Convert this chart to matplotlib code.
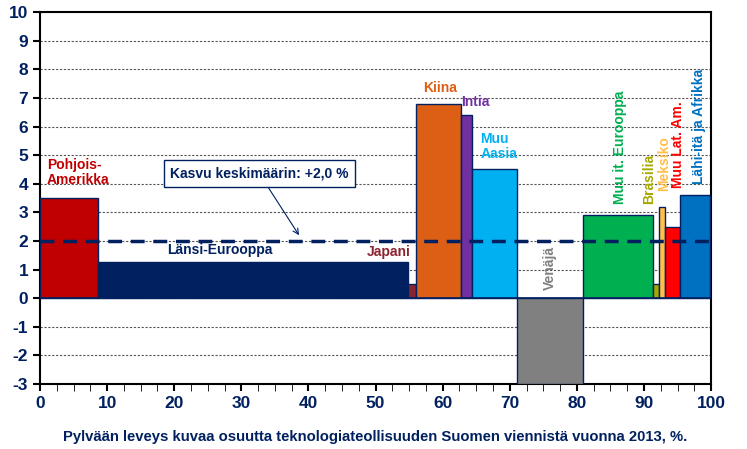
import matplotlib
matplotlib.use("Agg")
import matplotlib.pyplot as plt
import numpy as np

plt.rcParams['font.family'] = ['Liberation Sans', 'DejaVu Sans']
plt.rcParams['axes.unicode_minus'] = False

regions = ["Pohjois-Amerikka", "Länsi-Eurooppa", "Japani", "Kiina", "Intia", "Muu Aasia",
           "Venäjä", "Muu it. Eurooppa", "Brasilia", "Meksiko", "Muu Lat. Am.", "Lähi-itä ja Afrikka"]
widths = [8.6, 46.2, 1.3, 6.7, 1.5, 6.8, 9.8, 10.4, 1.0, 0.8, 2.2, 4.6]
growth = [3.5, 1.25, 0.5, 6.8, 6.4, 4.5, -3.0, 2.9, 0.5, 3.2, 2.5, 3.6]
colors = ["#C00000", "#002060", "#8B2332", "#DD5F15", "#7030A0", "#00B0F0",
          "#808080", "#00B050", "#A5A800", "#FFC04A", "#FF0000", "#0070C0"]
average = 2.0
navy = "#002060"

fig = plt.figure(figsize=(7.47, 4.49), dpi=100)
ax = fig.add_axes([0.0535, 0.1448, 0.8985, 0.8282])

lefts = np.concatenate([[0], np.cumsum(widths)[:-1]])
ax.bar(lefts, growth, width=widths, align='edge', color=colors,
       edgecolor=navy, linewidth=1.0, zorder=3)

ax.set_xlim(0, 100)
ax.set_ylim(-3, 10)
ax.set_yticks(range(-3, 11))
ax.set_xticks(range(0, 101, 10))
ax.set_xticks(np.arange(0, 100.1, 2.5), minor=True)
ax.yaxis.grid(True, linestyle=(0, (2, 1.5)), color='#555555', linewidth=0.8, zorder=0)
ax.tick_params(axis='both', labelsize=12.5, labelcolor=navy, color='black', width=1.5)
ax.tick_params(axis='y', length=5)
ax.tick_params(axis='x', which='both', length=5, direction='out')
for lab in ax.get_xticklabels() + ax.get_yticklabels():
    lab.set_fontweight('bold')
for s in ax.spines.values():
    s.set_linewidth(1.5)
ax.axhline(0, color=navy, linewidth=1.2, zorder=4)

ax.plot([0, 100], [average, average], color=navy, linewidth=2.5,
        linestyle=(0, (4, 2.5)), zorder=5)

ax.set_xlabel("Pylvään leveys kuvaa osuutta teknologiateollisuuden Suomen viennistä vuonna 2013, %.",
              fontsize=10.7, fontweight='bold', color=navy, labelpad=14)

fs = 10
ax.text(1.0, 4.4, "Pohjois-\nAmerikka", color=colors[0], fontsize=fs, fontweight='bold',
        ha='left', va='center', linespacing=1.1, zorder=6)
ax.text(26.8, 1.68, "Länsi-Eurooppa", color=colors[1], fontsize=fs, fontweight='bold',
        ha='center', va='center', zorder=6)
ax.text(55.3, 1.6, "Japani", color=colors[2], fontsize=fs, fontweight='bold',
        ha='right', va='center', zorder=6)
ax.text(59.6, 7.35, "Kiina", color=colors[3], fontsize=fs, fontweight='bold',
        ha='center', va='center', zorder=6)
ax.text(62.8, 6.87, "Intia", color=colors[4], fontsize=fs, fontweight='bold',
        ha='left', va='center', zorder=6)
ax.text(65.6, 5.3, "Muu\nAasia", color=colors[5], fontsize=fs, fontweight='bold',
        ha='left', va='center', linespacing=1.1, zorder=6)
ax.text(76.0, 0.3, "Venäjä", color=colors[6], fontsize=fs, fontweight='bold',
        ha='center', va='bottom', rotation=90, zorder=6)
ax.text(86.4, 3.3, "Muu it. Eurooppa", color=colors[7], fontsize=fs, fontweight='bold',
        ha='center', va='bottom', rotation=90, zorder=6)
ax.text(90.8, 3.3, "Brasilia", color=colors[8], fontsize=fs, fontweight='bold',
        ha='center', va='bottom', rotation=90, zorder=6)
ax.text(93.0, 3.75, "Meksiko", color=colors[9], fontsize=fs, fontweight='bold',
        ha='center', va='bottom', rotation=90, zorder=6)
ax.text(95.0, 3.85, "Muu Lat. Am.", color=colors[10], fontsize=fs, fontweight='bold',
        ha='center', va='bottom', rotation=90, zorder=6)
ax.text(98.2, 4.0, "Lähi-itä ja Afrikka", color=colors[11], fontsize=fs, fontweight='bold',
        ha='center', va='bottom', rotation=90, zorder=6)

ax.annotate("Kasvu keskimäärin: +2,0 %", xy=(38.6, 2.2), xytext=(32.7, 4.35),
            fontsize=fs, fontweight='bold', color=navy, ha='center', va='center',
            bbox=dict(boxstyle='square,pad=0.45', fc='white', ec=navy, lw=1.0),
            arrowprops=dict(arrowstyle='->', color=navy, lw=0.8, shrinkA=0, shrinkB=0),
            zorder=7)

fig.savefig("out.png", dpi=100)
